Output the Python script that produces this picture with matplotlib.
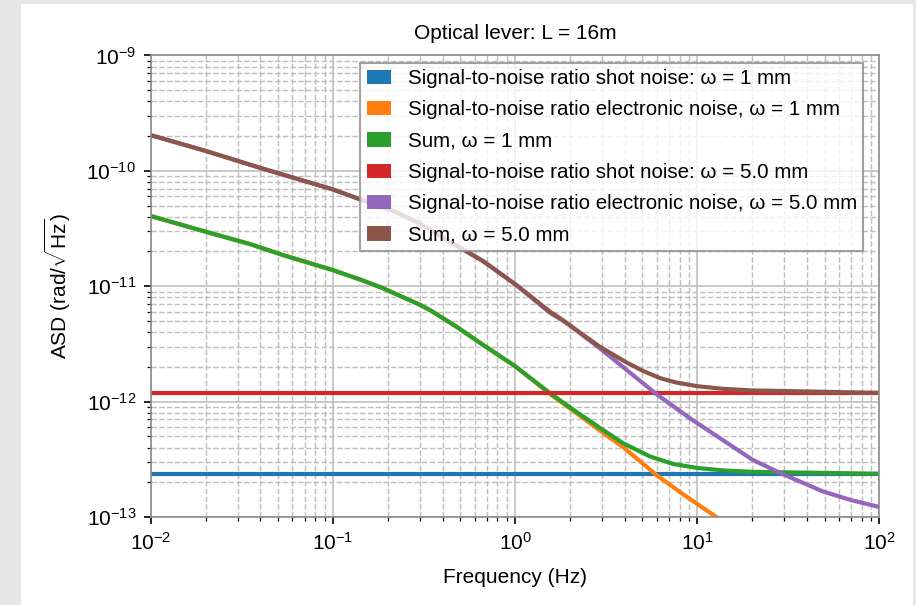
# -*- coding: utf-8 -*-

import matplotlib.pyplot as plt
from matplotlib.patches import Patch, Rectangle

plt.rcParams['font.family'] = ['Liberation Sans', 'DejaVu Sans']
plt.rcParams['mathtext.fontset'] = 'custom'
plt.rcParams['mathtext.rm'] = 'Liberation Sans'
plt.rcParams['mathtext.it'] = 'Liberation Sans:italic'
plt.rcParams['mathtext.bf'] = 'Liberation Sans:bold'

# values: frequency (Hz), ASD (rad/sqrt(Hz))
shot_freq = [1e-2, 1e2]
shot_1mm = [2.36e-13, 2.36e-13]
shot_5mm = [1.18e-12, 1.18e-12]

elec_1mm_freq = [0.01, 0.02, 0.0351, 0.0534, 0.1, 0.144, 0.189, 0.301, 0.348, 0.477,
                 0.668, 1.0, 1.56, 2.0, 2.98, 3.93, 5.98, 8.38, 12.5, 20.0]
elec_1mm = [4.06e-11, 2.97e-11, 2.32e-11, 1.86e-11, 1.38e-11, 1.13e-11, 9.59e-12,
            6.9e-12, 6.1e-12, 4.46e-12, 3.1e-12, 2.03e-12, 1.16e-12, 8.75e-13,
            5.49e-13, 4.02e-13, 2.31e-13, 1.57e-13, 1.02e-13, 6.2e-14]

sum_1mm_freq = [0.01, 0.02, 0.0351, 0.0534, 0.1, 0.144, 0.189, 0.301, 0.348, 0.477,
                0.668, 1.0, 1.56, 2.0, 2.98, 3.93, 5.50, 7.38, 10.0, 14.0, 20.2, 100.0]
sum_1mm = [4.06e-11, 2.97e-11, 2.32e-11, 1.86e-11, 1.38e-11, 1.13e-11, 9.59e-12,
           6.9e-12, 6.1e-12, 4.46e-12, 3.1e-12, 2.03e-12, 1.18e-12, 8.92e-13,
           5.8e-13, 4.35e-13, 3.35e-13, 2.88e-13, 2.66e-13, 2.53e-13, 2.46e-13, 2.37e-13]

elec_5mm_freq = [0.01, 0.02, 0.04, 0.1, 0.144, 0.215, 0.3, 0.477, 0.668, 1.02, 1.56,
                 1.88, 2.92, 4.10, 5.98, 9.12, 20.2, 29.7, 49.2, 70.0, 100.0]
elec_5mm = [2.04e-10, 1.49e-10, 1.06e-10, 6.9e-11, 5.6e-11, 4.5e-11, 3.5e-11,
            2.25e-11, 1.65e-11, 1.02e-11, 5.85e-12, 4.92e-12, 2.90e-12, 1.88e-12,
            1.16e-12, 7.17e-13, 3.12e-13, 2.34e-13, 1.66e-13, 1.40e-13, 1.22e-13]

sum_5mm_freq = [0.01, 0.02, 0.04, 0.1, 0.144, 0.215, 0.3, 0.477, 0.668, 1.02, 1.56,
                1.76, 2.92, 4.10, 5.06, 6.24, 7.71, 10.0, 13.9, 19.9, 100.0]
sum_5mm = [2.04e-10, 1.49e-10, 1.06e-10, 6.9e-11, 5.6e-11, 4.5e-11, 3.5e-11,
           2.25e-11, 1.65e-11, 1.02e-11, 6.0e-12, 5.3e-12, 2.99e-12, 2.18e-12,
           1.84e-12, 1.60e-12, 1.46e-12, 1.36e-12, 1.29e-12, 1.25e-12, 1.19e-12]

labels = ['Signal-to-noise ratio shot noise: ω = 1 mm',
          'Signal-to-noise ratio electronic noise, ω = 1 mm',
          'Sum, ω = 1 mm',
          'Signal-to-noise ratio shot noise: ω = 5.0 mm',
          'Signal-to-noise ratio electronic noise, ω = 5.0 mm',
          'Sum, ω = 5.0 mm']
colors = ['#1f77b4', '#ff7f0e', '#2ca02c', '#d62728', '#9467bd', '#8c564b']

fig = plt.figure(figsize=(916/150, 605/150), dpi=150)
fig.patch.set_facecolor('#e6e6e6')
# white page inside the grey border
fig.add_artist(Rectangle((21/916, 0), (913-21)/916, (605-4)/605,
                         transform=fig.transFigure, facecolor='white',
                         edgecolor='none', zorder=-1))

ax = fig.add_axes([0.1645, 0.1455, 0.7955, 0.7628])

series = [(shot_freq, shot_1mm), (elec_1mm_freq, elec_1mm), (sum_1mm_freq, sum_1mm),
          (shot_freq, shot_5mm), (elec_5mm_freq, elec_5mm), (sum_5mm_freq, sum_5mm)]
for (f, v), c in zip(series, colors):
    ax.plot(f, v, color=c, lw=2.0, solid_capstyle='butt', solid_joinstyle='round')

ax.set_xscale('log')
ax.set_yscale('log')
ax.set_xlim(1e-2, 1e2)
ax.set_ylim(1e-13, 1e-9)

ax.grid(True, which='major', ls='-', color='0.75', lw=0.8)
ax.grid(True, which='minor', ls='--', color='0.75', lw=0.7)
ax.set_axisbelow(True)
for s in ax.spines.values():
    s.set_color('0.55')
ax.tick_params(which='both', direction='out', colors='black', labelsize=10)

ax.set_xlabel('Frequency (Hz)', fontsize=10, labelpad=7)
ax.set_ylabel(r'ASD (rad/$\sqrt{\mathrm{Hz}}$)', fontsize=10, labelpad=6.5)
ax.set_title('Optical lever: L = 16m', fontsize=10, pad=8)

handles = [Patch(facecolor=c, edgecolor='none') for c in colors]
leg = ax.legend(handles, labels, loc='upper right', bbox_to_anchor=(0.9775, 0.984),
                borderaxespad=0, borderpad=0.3, labelspacing=0.6, fancybox=False,
                framealpha=0.8, edgecolor='0.55', handlelength=1.2, fontsize=9.85)
leg.get_frame().set_linewidth(1.0)

fig.savefig('out.png', dpi=150, facecolor=fig.get_facecolor())
